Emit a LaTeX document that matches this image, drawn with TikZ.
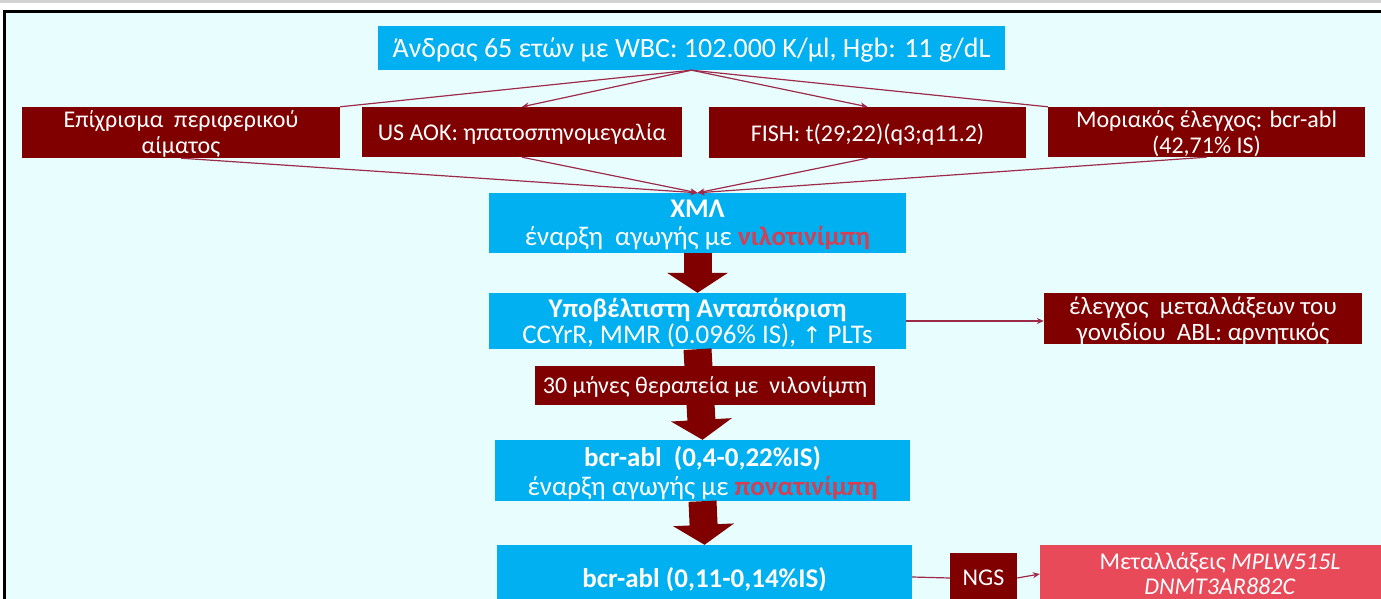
\documentclass[tikz,border=0pt]{standalone}
\usepackage{fontspec}
\setmainfont{Carlito}
\newfontfamily\symfont{DejaVu Sans}
\usetikzlibrary{arrows.meta,positioning,calc}
\definecolor{cmlcyan}{RGB}{0,176,240}
\definecolor{cmldarkred}{RGB}{128,0,0}
\definecolor{cmlred}{RGB}{232,74,90}
\definecolor{cmltext}{RGB}{214,62,84}
\definecolor{cmlline}{RGB}{158,42,74}
\definecolor{cmlback}{RGB}{232,254,254}
\tikzstyle{cyanbox} = [rectangle, fill=cmlcyan, text=white, align=center, inner sep=0pt, text depth=0pt, font=\fontsize{27}{28}\selectfont]
\tikzstyle{redbox} = [rectangle, fill=cmldarkred, text=white, align=center, inner sep=0pt, text depth=0pt, font=\fontsize{24}{26}\selectfont]
\tikzstyle{link} = [line width=1.2pt, color=cmlline]
\tikzstyle{linkarrow} = [link, -{Stealth[length=7pt,width=6pt]}]
\tikzstyle{bigarrow} = [line width=28pt, color=cmldarkred, -{Triangle[length=20pt,width=60pt]}]

\begin{document}
\begin{tikzpicture}[x=1pt, y=-1pt]
\useasboundingbox (0,0) rectangle (1381,599);
% Frame
\fill[gray!35] (0,0) rectangle (1381,3);
\fill[cmlback] (5,12) rectangle (1381,599);
\draw[line width=3pt] (4.5,599) -- (4.5,11.5) -- (1381,11.5);

% Patient and findings
\node[cyanbox, minimum width=627pt, minimum height=44pt, font=\fontsize{28}{30}\selectfont] (patient) at (691.5,48) {Άνδρας 65 ετών με WBC: 102.000 K/μl, Hgb: 11 g/dL};
\node[redbox, minimum width=318pt, minimum height=51pt] (smear) at (181,132.5) {Επίχρισμα\ \ περιφερικού\\αίματος};
\node[redbox, minimum width=320pt, minimum height=50pt] (us) at (522,132) {US AOK: ηπατοσπηνομεγαλία};
\node[redbox, minimum width=317pt, minimum height=51pt] (fish) at (867.5,132.5) {FISH: t(29;22)(q3;q11.2)};
\node[redbox, minimum width=317pt, minimum height=50pt] (pcr) at (1206.5,132) {Μοριακός έλεγχος: bcr-abl\\(42,71\% IS)};

% Diagnosis
\node[cyanbox, minimum width=417pt, minimum height=60pt] (cml) at (697.5,223) {\textbf{ΧΜΛ}\\έναρξη\ \ αγωγής με \textcolor{cmltext}{\textbf{νιλοτινίμπη}}};

\draw[link] (patient.south) -- (smear.north east);
\draw[linkarrow] (patient.south) -- (us.north);
\draw[linkarrow] (patient.south) -- (fish.north);
\draw[link] (patient.south) -- (pcr.north west);
\foreach \src in {smear,us,fish,pcr}
  \draw[linkarrow] (\src.south) -- (cml.north);

% Response
\node[cyanbox, minimum width=417pt, minimum height=56pt, font=\fontsize{27}{26}\selectfont] (sub) at (697.5,321) {\textbf{Υποβέλτιστη Ανταπόκριση}\\CCYrR, MMR (0.096\% IS), {\symfont\fontsize{23}{26}\selectfont ↑} PLTs};
\node[redbox, minimum width=318pt, minimum height=51pt, font=\fontsize{25}{26}\selectfont] (abl) at (1203,318.5) {έλεγχος\ \ μεταλλάξεων του\\γονιδίου\ \ ABL: αρνητικός};
\draw[bigarrow] (cml.south) -- (sub.north);
\draw[linkarrow] (sub.east) -- (sub.east -| abl.west);

% Second line
\node[cyanbox, minimum width=415pt, minimum height=61pt, font=\fontsize{27}{29}\selectfont] (bcr1) at (702.5,470.5) {\textbf{bcr-abl\ \ (0,4-0,22\%IS)}\\έναρξη αγωγής με \textcolor{cmltext}{\textbf{πονατινίμπη}}};
\draw[bigarrow] (sub.south) -- (bcr1.north);
\node[redbox, minimum width=340pt, minimum height=39pt] (months) at (705,385.5) {30 μήνες θεραπεία με\ \ νιλονίμπη};

% Follow-up
\node[cyanbox, minimum width=415pt, minimum height=64pt] (bcr2) at (704.5,577) {\textbf{bcr-abl (0,11-0,14\%IS)}};
\draw[bigarrow] (bcr1.south) -- (bcr2.north);
\node[redbox, minimum width=67pt, minimum height=50pt] (ngs) at (983.5,578) {NGS};
\node[rectangle, fill=cmlred, text=white, align=center, inner sep=0pt, font=\fontsize{24}{25}\selectfont, minimum width=360pt, minimum height=58pt] (mut) at (1220,574) {Μεταλλάξεις \textit{MPLW515L}\\\textit{DNMT3AR882C}};
\draw[link] (bcr2.east) -- (ngs.west);
\draw[linkarrow] (ngs.east) -- (mut.west);
\end{tikzpicture}
\end{document}
